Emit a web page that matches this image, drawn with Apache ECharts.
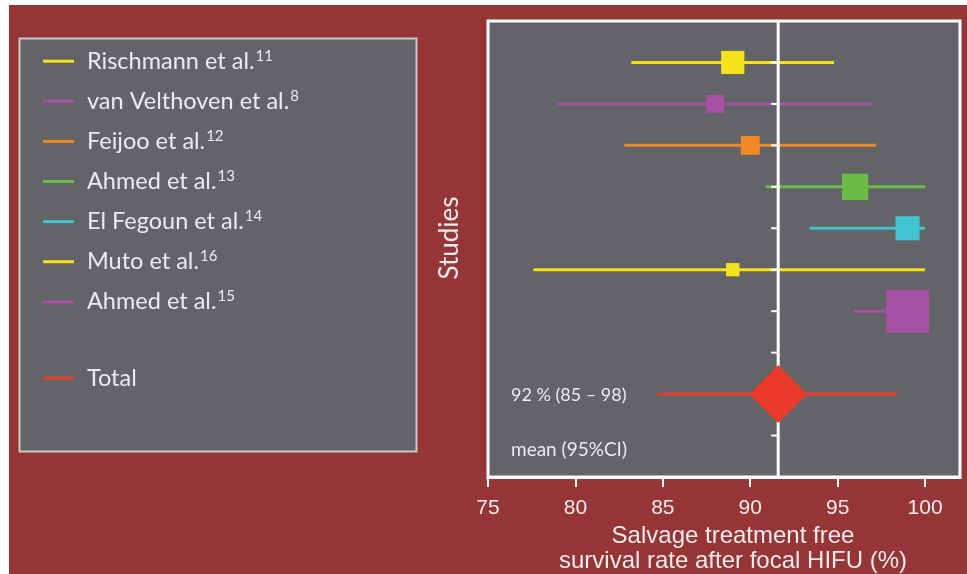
<!DOCTYPE html>
<html>
<head>
<meta charset="utf-8">
<script src="https://cdn.jsdelivr.net/npm/echarts@6/dist/echarts.min.js"></script>
<style>
  html, body { margin: 0; padding: 0; background: #ffffff; }
  #chart { width: 967px; height: 574px; }
</style>
</head>
<body>
<div id="chart"></div>
<script>
// Forest plot: salvage treatment free survival after focal HIFU

const studyLabels = ['Rischmann et al.', 'van Velthoven et al.', 'Feijoo et al.', 'Ahmed et al.', 'El Fegoun et al.', 'Muto et al.', 'Ahmed et al.'];
const studyRefs = ['11', '8', '12', '13', '14', '16', '15'];
const studyRows = [0, 1, 2, 3, 4, 5, 6];
const studyMeans = [89.0, 88.0, 90.0, 96.0, 99.0, 89.0, 99.0];
const studyLower = [83.2, 79.0, 82.8, 90.9, 93.4, 77.6, 95.9];
const studyUpper = [94.8, 97.0, 97.2, 100.0, 100.0, 100.0, 100.0];
const studyWeights = [5.4, 4.2, 4.4, 6.1, 5.6, 3.1, 10.0];
const studyColors = ['#f4e21c', '#a650a6', '#ef8a26', '#6bbb45', '#41c3d2', '#f4e21c', '#a650a6'];

const totalRow = 8;
const totalMean = 91.6;
const totalLower = 84.7;
const totalUpper = 98.4;
const totalColor = '#ea3a2a';

const xTicks = [75, 80, 85, 90, 95, 100];
const rowTicks = [0, 1, 2, 3, 4, 5, 6, 7, 8, 9];

const textColor = '#ecebee';
const plotGray = '#636467';
const bgRed = '#963535';
const boxScale = 4.3;

const chart = echarts.init(document.getElementById('chart'));

const seriesNames = studyLabels.map((l, i) => l + ' ' + studyRefs[i]);

function renderStudy(params, api) {
  const y = api.value(0);
  const pLo = api.coord([api.value(1), y]);
  const pMid = api.coord([api.value(2), y]);
  const pHi = api.coord([api.value(3), y]);
  const side = api.value(4) * boxScale;
  const color = api.visual('color');
  return {
    type: 'group',
    children: [
      { type: 'line', z2: 1, shape: { x1: pLo[0], y1: pLo[1], x2: pHi[0], y2: pHi[1] },
        style: { stroke: color, lineWidth: 3 } },
      { type: 'rect', z2: 10, shape: { x: pMid[0] - side / 2, y: pMid[1] - side / 2, width: side, height: side },
        style: { fill: color } }
    ]
  };
}

function renderTotal(params, api) {
  const y = api.value(0);
  const pLo = api.coord([api.value(1), y]);
  const pMid = api.coord([api.value(2), y]);
  const pHi = api.coord([api.value(3), y]);
  const pLeft = api.coord([xTicks[0], y]);
  const pLeftBelow = api.coord([xTicks[0], y + 1]);
  const h = 29, w = 29;
  const label = Math.round(api.value(2)) + ' % (' + Math.round(api.value(1)) + ' \u2013 ' + Math.round(api.value(3)) + ')';
  return {
    type: 'group',
    children: [
      { type: 'line', z2: 1, shape: { x1: pLo[0], y1: pLo[1], x2: pHi[0], y2: pHi[1] },
        style: { stroke: totalColor, lineWidth: 3 } },
      { type: 'polygon', z2: 10,
        shape: { points: [[pMid[0] - w, pMid[1]], [pMid[0], pMid[1] - h], [pMid[0] + w, pMid[1]], [pMid[0], pMid[1] + h]] },
        style: { fill: totalColor } },
      { type: 'text', z2: 10, x: pLeft[0] + 23, y: pLeft[1] + 1,
        style: { text: label, fill: textColor, font: '18px Lato', verticalAlign: 'middle', align: 'left' } },
      { type: 'text', z2: 10, x: pLeftBelow[0] + 23, y: pLeftBelow[1] + 14,
        style: { text: 'mean (95%CI)', fill: textColor, font: '19px Lato', verticalAlign: 'middle', align: 'left' } }
    ]
  };
}

// white reference line at the pooled mean, with small ticks for each row
function renderReference(params, api) {
  const cs = params.coordSys;
  const p = api.coord([api.value(0), api.value(1)]);
  const children = [
    { type: 'line', z2: 1, shape: { x1: p[0] - 7, y1: p[1], x2: p[0], y2: p[1] },
      style: { stroke: '#ffffff', lineWidth: 2 } }
  ];
  if (params.dataIndex === 0) {
    children.push({ type: 'line', z2: 5, shape: { x1: p[0], y1: cs.y, x2: p[0], y2: cs.y + cs.height },
      style: { stroke: '#ffffff', lineWidth: 3 } });
  }
  return { type: 'group', children };
}

const series = studyLabels.map((l, i) => ({
  name: seriesNames[i],
  type: 'custom',
  renderItem: renderStudy,
  itemStyle: { color: studyColors[i] },
  encode: { x: [1, 2, 3], y: 0 },
  data: [[studyRows[i], studyLower[i], studyMeans[i], studyUpper[i], studyWeights[i]]]
}));

series.push({
  name: 'Total',
  type: 'custom',
  renderItem: renderTotal,
  itemStyle: { color: totalColor },
  encode: { x: [1, 2, 3], y: 0 },
  data: [[totalRow, totalLower, totalMean, totalUpper]]
});

series.push({
  name: 'reference',
  type: 'custom',
  renderItem: renderReference,
  encode: { x: 0, y: 1 },
  data: rowTicks.map(r => [totalMean, r]),
  silent: true
});

const legendText = {
  color: textColor,
  fontFamily: 'Lato',
  fontSize: 23.5,
  padding: [0, 0, 0, 8],
  rich: {
    n: { fontFamily: 'Lato', fontSize: 23.5, color: textColor, lineHeight: 26 },
    s: { fontFamily: 'Lato', fontSize: 15, color: textColor, verticalAlign: 'top', lineHeight: 26, padding: [0, 0, 0, 1] }
  }
};

chart.setOption({
  backgroundColor: '#ffffff',
  animation: false,
  graphic: [
    { type: 'rect', z: -10, shape: { x: 9, y: 5, width: 958, height: 569 }, style: { fill: bgRed } },
    { type: 'rect', z: -9, shape: { x: 19.5, y: 38.5, width: 397, height: 413 },
      style: { fill: plotGray, stroke: '#c9c9cc', lineWidth: 2 } },
    { type: 'text', x: 450, y: 238, rotation: Math.PI / 2,
      style: { text: 'Studies', fill: textColor, font: '26px Lato', align: 'center', verticalAlign: 'middle' } }
  ],
  legend: [
    {
      data: seriesNames,
      orient: 'vertical',
      left: 38,
      top: 43.2,
      itemWidth: 31,
      itemHeight: 3,
      itemGap: 15.1,
      icon: 'rect',
      selectedMode: false,
      formatter: name => {
        const i = seriesNames.indexOf(name);
        return '{n|' + studyLabels[i] + '}{s|' + studyRefs[i] + '}';
      },
      textStyle: legendText
    },
    {
      data: ['Total'],
      orient: 'vertical',
      left: 38,
      top: 361.2,
      itemWidth: 31,
      itemHeight: 3,
      icon: 'rect',
      selectedMode: false,
      formatter: name => '{n|' + name + '}',
      textStyle: legendText
    }
  ],
  grid: {
    left: 488, right: 7, top: 21, bottom: 97,
    outerBoundsMode: 'none',
    show: true, backgroundColor: plotGray, borderColor: '#ffffff', borderWidth: 3
  },
  xAxis: {
    type: 'value',
    min: 75, max: 102, interval: 5,
    splitLine: { show: false },
    axisLine: { show: true, onZero: false, lineStyle: { color: '#ffffff', width: 3 } },
    axisTick: { show: true, length: 10, customValues: xTicks, lineStyle: { color: '#ffffff', width: 2 } },
    axisLabel: { customValues: xTicks, color: textColor, fontFamily: 'Liberation Sans', fontSize: 21, margin: 21 },
    name: 'Salvage treatment free\nsurvival rate after focal HIFU (%)',
    nameLocation: 'middle',
    nameGap: 45,
    nameTextStyle: { color: textColor, fontFamily: 'Liberation Sans', fontSize: 24, lineHeight: 25, padding: [0, 0, 0, 18] }
  },
  yAxis: {
    type: 'value',
    min: -1, max: 10,
    inverse: true,
    show: false
  },
  series
});
</script>
</body>
</html>
